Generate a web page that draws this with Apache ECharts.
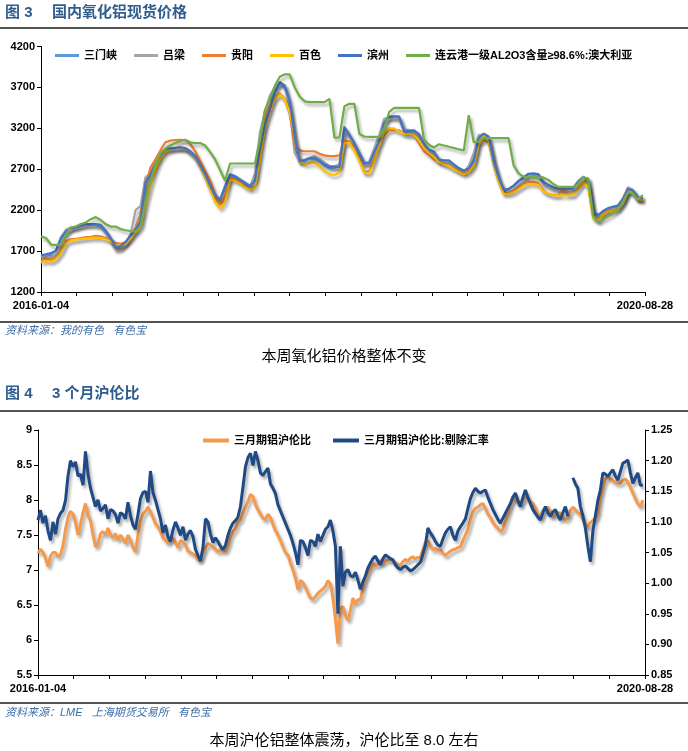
<!DOCTYPE html>
<html><head><meta charset="utf-8">
<script src="https://cdn.jsdelivr.net/npm/echarts@6/dist/echarts.min.js"></script>
<style>html,body{margin:0;padding:0;background:#fff}#c{width:688px;height:751px}</style>
</head><body><div id="c"></div>
<script>
// ---------- data ----------
const STEP1 = 14;   // days between points, chart 1
const STEP2 = 7;    // days between points, chart 2
const X_MAX = 1700; // days from 2016-01-04 to end of axis
const xTickLabels = ['2016-01-04', '2020-08-28'];

const names1 = ['三门峡', '吕梁', '贵阳', '百色', '滨州', '连云港一级AL2O3含量≥98.6%:澳大利亚'];
const sanmenxia = [
1620,1640,1660,1700,1870,1950,1980,1995,2010,2020,
2025,2020,2000,1930,1830,1730,1740,1800,1900,1980,
2150,2580,2650,2780,2890,2950,2960,2960,2965,2955,
2910,2850,2740,2620,2480,2360,2320,2500,2640,2620,
2580,2540,2500,2600,3050,3300,3480,3680,3770,3700,
3500,3000,2790,2800,2830,2830,2800,2750,2720,2720,
2740,3220,3110,3000,2880,2770,2780,2920,3080,3300,
3340,3340,3330,3160,3160,3160,3110,3000,2930,2900,
2810,2800,2800,2750,2700,2680,2720,2830,3100,3130,
3080,2780,2580,2440,2450,2490,2550,2590,2640,2640,
2630,2530,2500,2470,2460,2460,2460,2470,2550,2600,
2570,2180,2130,2180,2215,2235,2250,2340,2470,2440,
2345,2340];
const lvliang = [
1640,1650,1670,1700,1860,1960,1990,2000,2010,2020,
2030,2030,2010,1940,1840,1720,1730,1800,1900,2200,
2250,2600,2650,2800,2900,2940,2950,2955,2960,2950,
2900,2840,2730,2600,2460,2350,2310,2460,2620,2600,
2570,2520,2480,2650,3150,3400,3600,3700,3760,3720,
3450,2900,2800,2820,2840,2860,2830,2780,2740,2740,
2760,3200,3100,2990,2860,2760,2800,2960,3120,3320,
3330,3330,3320,3180,3180,3170,3100,2980,2920,2890,
2800,2790,2780,2740,2690,2670,2740,2900,3120,3120,
3050,2750,2560,2450,2460,2500,2560,2600,2640,2630,
2620,2520,2490,2460,2450,2450,2455,2470,2560,2610,
2560,2160,2130,2190,2220,2240,2260,2350,2480,2450,
2350,2360];
const guiyang = [
1590,1610,1590,1620,1700,1820,1845,1850,1860,1870,
1875,1885,1880,1860,1840,1800,1790,1810,1860,1980,
2150,2500,2720,2820,2930,3030,3050,3055,3060,3055,
3010,2920,2800,2680,2560,2400,2270,2380,2600,2580,
2560,2520,2480,2560,2950,3330,3490,3580,3630,3560,
3380,3000,2930,2920,2920,2920,2890,2870,2860,2860,
2870,3050,3040,2950,2820,2660,2680,2820,3000,3120,
3180,3180,3175,3130,3120,3120,3020,2920,2880,2820,
2790,2770,2740,2710,2680,2650,2690,2760,3020,3060,
3030,2780,2560,2410,2410,2440,2480,2520,2545,2545,
2530,2440,2400,2385,2385,2460,2390,2390,2460,2545,
2500,2120,2080,2150,2190,2200,2220,2300,2450,2420,
2330,2320];
const baise = [
1560,1580,1570,1600,1680,1800,1830,1840,1850,1855,
1860,1865,1860,1845,1820,1770,1760,1790,1850,1920,
1990,2250,2500,2680,2820,2900,2940,2960,2965,2960,
2920,2850,2740,2600,2450,2300,2220,2300,2570,2560,
2530,2480,2450,2470,2800,3200,3400,3560,3620,3550,
3400,3100,2800,2760,2770,2780,2740,2680,2640,2630,
2660,3020,3020,2930,2800,2660,2650,2800,2990,3150,
3200,3200,3160,3130,3130,3120,3050,2960,2900,2850,
2790,2760,2740,2700,2670,2640,2660,2740,3000,3110,
3050,2760,2550,2400,2400,2420,2460,2500,2520,2520,
2510,2430,2400,2380,2380,2380,2380,2390,2460,2540,
2480,2100,2070,2140,2180,2190,2210,2280,2430,2420,
2330,2320];
const binzhou = [
1650,1660,1675,1705,1850,1940,1975,1990,2010,2030,
2030,2030,2020,1950,1860,1750,1760,1810,1890,1960,
2060,2540,2630,2760,2870,2945,2955,2960,2968,2960,
2920,2860,2750,2640,2500,2380,2330,2480,2630,2610,
2570,2530,2490,2560,2950,3240,3420,3640,3760,3720,
3540,3100,2800,2810,2835,2840,2805,2760,2730,2730,
2730,3210,3120,3020,2900,2780,2770,2910,3040,3270,
3340,3345,3345,3170,3170,3175,3130,3010,2940,2915,
2820,2810,2810,2760,2715,2685,2710,2800,3080,3135,
3100,2800,2600,2450,2460,2500,2555,2600,2645,2650,
2640,2540,2510,2480,2465,2465,2465,2470,2540,2600,
2580,2190,2140,2190,2225,2240,2255,2330,2460,2440,
2350,2345];
const lianyungang = [
1880,1860,1780,1775,1780,1900,1985,2000,2030,2050,
2090,2115,2080,2030,2000,2000,1970,1955,1945,1940,
2000,2300,2550,2750,2890,2955,2990,3020,3045,3060,
3030,3020,3020,2990,2910,2820,2690,2560,2770,2770,
2770,2770,2770,2770,3050,3420,3560,3720,3830,3860,
3860,3700,3590,3530,3520,3520,3520,3520,3560,3085,
3090,3470,3500,3500,3130,3100,3095,3095,3095,3200,
3400,3450,3450,3450,3450,3450,3450,3060,3000,2965,
3005,2990,2975,2960,2945,2930,3360,3030,3040,3080,
3080,3080,3080,3080,3080,2750,2650,2610,2605,2600,
2600,2600,2570,2520,2485,2485,2485,2485,2520,2600,
2590,2130,2060,2090,2125,2160,2210,2300,2420,2400,
2330,2385];
const yTicks1 = [1200, 4200, 500];

const names2 = ['三月期铝沪伦比', '三月期铝沪伦比:剔除汇率'];
const ratio = [
7.24,7.30,7.25,7.17,7.05,7.20,7.25,7.25,7.19,7.22,
7.35,7.58,7.75,7.84,7.80,7.68,7.50,7.65,7.82,7.95,
7.78,7.70,7.50,7.33,7.38,7.52,7.55,7.50,7.60,7.50,
7.46,7.52,7.43,7.50,7.45,7.38,7.50,7.42,7.32,7.26,
7.50,7.70,7.80,7.84,7.90,7.83,7.75,7.66,7.62,7.55,
7.46,7.43,7.38,7.48,7.45,7.40,7.32,7.42,7.40,7.36,
7.27,7.25,7.23,7.20,7.14,7.17,7.25,7.32,7.38,7.36,
7.33,7.30,7.26,7.29,7.27,7.27,7.35,7.48,7.55,7.59,
7.70,7.72,7.82,7.90,7.98,8.08,8.05,7.93,7.86,7.80,
7.74,7.72,7.80,7.75,7.65,7.56,7.50,7.42,7.33,7.25,
7.21,7.10,7.00,6.88,6.72,6.85,6.82,6.75,6.67,6.60,
6.58,6.62,6.67,6.70,6.73,6.77,6.85,6.80,6.60,6.30,
5.95,6.45,6.48,6.35,6.28,6.42,6.60,6.52,6.58,6.57,
6.75,6.88,6.97,7.02,7.10,7.06,7.08,7.14,7.10,7.15,
7.13,7.16,7.14,7.10,7.08,7.07,7.12,7.15,7.13,7.17,
7.19,7.16,7.18,7.18,7.30,7.40,7.42,7.35,7.29,7.31,
7.28,7.29,7.24,7.21,7.24,7.27,7.29,7.30,7.32,7.33,
7.42,7.50,7.58,7.72,7.83,7.88,7.90,7.93,7.95,7.88,
7.80,7.75,7.68,7.63,7.60,7.55,7.58,7.70,7.80,7.93,
8.05,8.00,7.96,7.95,8.00,8.05,8.02,7.97,7.95,7.88,
7.80,7.76,7.85,7.88,7.90,7.84,7.76,7.80,7.82,7.81,
7.75,7.72,7.74,7.85,7.90,7.86,7.82,7.80,7.72,7.65,
7.62,7.68,7.71,7.74,7.80,8.05,8.20,8.30,8.33,8.30,
8.28,8.25,8.24,8.24,8.28,8.30,8.26,8.18,8.10,8.02,
7.95,7.90,8.00];
const ratioExFx = [
1.103,1.119,1.098,1.110,1.085,1.070,1.100,1.080,1.105,1.114,
1.119,1.135,1.175,1.200,1.190,1.198,1.175,1.178,1.160,1.215,
1.178,1.155,1.140,1.125,1.136,1.118,1.122,1.128,1.105,1.120,
1.118,1.112,1.098,1.115,1.112,1.105,1.132,1.110,1.095,1.088,
1.112,1.138,1.148,1.150,1.132,1.183,1.148,1.135,1.120,1.105,
1.082,1.095,1.075,1.068,1.087,1.100,1.090,1.078,1.092,1.070,
1.080,1.086,1.076,1.055,1.045,1.036,1.058,1.105,1.100,1.080,
1.066,1.074,1.068,1.060,1.055,1.062,1.078,1.090,1.098,1.102,
1.108,1.125,1.157,1.190,1.205,1.212,1.192,1.215,1.200,1.180,
1.176,1.182,1.188,1.162,1.155,1.146,1.128,1.118,1.108,1.098,
1.088,1.078,1.065,1.050,1.030,1.070,1.068,1.058,1.045,1.070,
1.068,1.060,1.080,1.068,1.078,1.088,1.092,1.103,1.085,1.060,
0.950,1.060,0.995,1.018,1.022,1.012,1.010,1.018,1.005,0.990,
1.002,1.012,1.025,1.033,1.040,1.044,1.036,1.030,1.040,1.046,
1.043,1.040,1.038,1.030,1.025,1.022,1.026,1.028,1.024,1.020,
1.022,1.026,1.030,1.034,1.048,1.062,1.090,1.082,1.076,1.068,
1.062,1.060,1.072,1.082,1.088,1.092,1.078,1.070,1.085,1.092,
1.098,1.105,1.122,1.138,1.148,1.155,1.150,1.147,1.150,1.152,
1.140,1.130,1.120,1.112,1.104,1.098,1.106,1.114,1.122,1.130,
1.140,1.147,1.135,1.125,1.140,1.152,1.140,1.130,1.120,1.114,
1.108,1.103,1.115,1.125,1.115,1.109,1.116,1.120,1.110,1.103,
1.115,1.125,1.109,null,1.172,1.162,1.155,1.125,1.110,1.090,
1.060,1.035,1.085,1.110,1.135,1.152,1.180,1.178,1.174,1.180,
1.185,1.175,1.168,1.182,1.196,1.198,1.201,1.180,1.163,1.172,
1.180,1.160,1.160];
const yTicksLeft2 = [5.5, 9, 0.5];
const yTicksRight2 = [0.85, 1.25, 0.05];

// ---------- chart ----------
const FONT = '"Liberation Sans", Arial, "Noto Sans CJK SC", sans-serif';
const colors1 = ['#5B9BD5', '#A5A5A5', '#ED7D31', '#FFC000', '#4472C4', '#70AD47'];
const colors2 = ['#F59A4C', '#1F4A85'];
const series1Data = [sanmenxia, lvliang, guiyang, baise, binzhou, lianyungang];
const pts = (arr, step) => arr.map((v, i) => [i * step, v]);
const shadow = {shadowColor: 'rgba(0,0,0,0.32)', shadowBlur: 3, shadowOffsetX: 2, shadowOffsetY: 3};
const lbl = {color: '#000', fontSize: 11, fontWeight: 'bold', fontFamily: FONT};

function xAxis(gi) {
  return {
    gridIndex: gi, type: 'value', min: 0, max: X_MAX, interval: 100,
    axisLine: {show: true, onZero: false, lineStyle: {color: '#000', width: 1}},
    axisTick: {show: true, length: 4, lineStyle: {color: '#000'}},
    splitLine: {show: false},
    axisLabel: Object.assign({}, lbl, {margin: 8, showMinLabel: true, showMaxLabel: true,
      formatter: v => v === 0 ? xTickLabels[0] : (v === X_MAX ? xTickLabels[1] : '')})
  };
}
function yAxis(gi, t, pos, fmt) {
  return {
    gridIndex: gi, type: 'value', position: pos, min: t[0], max: t[1], interval: t[2],
    axisLine: {show: true, lineStyle: {color: '#000', width: 1}},
    axisTick: {show: true, length: 4, lineStyle: {color: '#000'}},
    splitLine: {show: false},
    axisLabel: Object.assign({}, lbl, {margin: 6, formatter: fmt})
  };
}

const series = [];
names1.forEach((n, k) => series.push({
  name: n, type: 'line', xAxisIndex: 0, yAxisIndex: 0, showSymbol: false,
  data: pts(series1Data[k], STEP1),
  lineStyle: Object.assign({width: 2.2, color: colors1[k]}, shadow), itemStyle: {color: colors1[k]}
}));
[ratio, ratioExFx].forEach((d, k) => series.push({
  name: names2[k], type: 'line', xAxisIndex: 1, yAxisIndex: 1 + k, showSymbol: false,
  data: pts(d, STEP2), connectNulls: false,
  lineStyle: Object.assign({width: 3, color: colors2[k]}, shadow), itemStyle: {color: colors2[k]}
}));

const titleBlue = '#2F5D8C';
const srcBlue = '#3D6EA6';
const txt = (x, y, s, font, fill, align) => ({type: 'text', x: x, y: y, silent: true,
  style: {text: s, font: font, fill: fill, align: align || 'left', verticalAlign: 'middle'}});
const rule = y => ({type: 'line', silent: true, shape: {x1: 0, y1: y, x2: 688, y2: y},
  style: {stroke: '#1a1a1a', lineWidth: 1.5}});

const chart = echarts.init(document.getElementById('c'), null, {renderer: 'canvas'});
chart.setOption({
  animation: false,
  backgroundColor: '#fff',
  textStyle: {fontFamily: FONT},
  grid: [
    {left: 41, right: 43, top: 46.5, height: 245.5, containLabel: false},
    {left: 38, right: 43, top: 430, height: 245, containLabel: false}
  ],
  xAxis: [xAxis(0), xAxis(1)],
  yAxis: [
    yAxis(0, yTicks1, 'left', v => String(v)),
    yAxis(1, yTicksLeft2, 'left', v => String(v)),
    yAxis(1, yTicksRight2, 'right', v => v.toFixed(2))
  ],
  legend: [
    {data: names1, top: 45, left: 50, itemWidth: 24, itemHeight: 3, itemGap: 17, icon: 'rect',
     textStyle: {fontSize: 11, fontWeight: 'bold', color: '#000', fontFamily: FONT}},
    {data: names2, top: 430, left: 198, itemWidth: 26, itemHeight: 4, itemGap: 22, icon: 'rect',
     textStyle: {fontSize: 11, fontWeight: 'bold', color: '#000', fontFamily: FONT}}
  ],
  series: series,
  graphic: [
    txt(5, 13, '图 3', 'bold 15px ' + FONT, titleBlue),
    txt(52, 13, '国内氧化铝现货价格', 'bold 15px ' + FONT, titleBlue),
    rule(28),
    rule(322),
    txt(5, 331, '资料来源：我的有色   有色宝', 'italic 11px ' + FONT, srcBlue),
    txt(344, 357, '本周氧化铝价格整体不变', '15px ' + FONT, '#000', 'center'),
    txt(5, 394, '图 4', 'bold 15px ' + FONT, titleBlue),
    txt(52, 394, '3 个月沪伦比', 'bold 15px ' + FONT, titleBlue),
    rule(411),
    rule(703),
    txt(5, 713, '资料来源：LME   上海期货交易所   有色宝', 'italic 11px ' + FONT, srcBlue),
    txt(344, 741, '本周沪伦铝整体震荡，沪伦比至 8.0 左右', '15px ' + FONT, '#000', 'center')
  ]
});
</script></body></html>
